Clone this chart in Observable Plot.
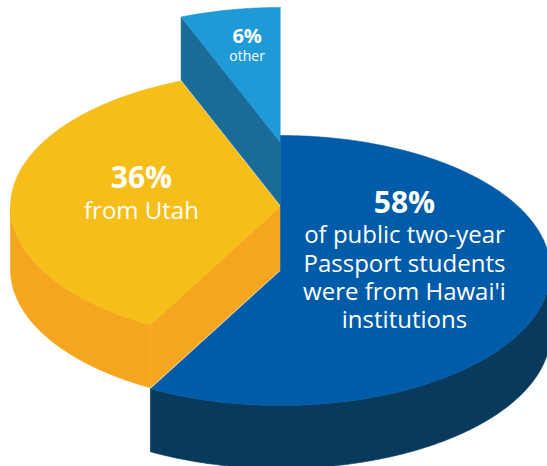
<!DOCTYPE html>
<html><head><meta charset="utf-8">
<script src="https://cdn.jsdelivr.net/npm/d3@7"></script>
<script src="https://cdn.jsdelivr.net/npm/@observablehq/plot@0.6"></script>
<style>html,body{margin:0;padding:0;background:#fff;} #chart svg{display:block;overflow:hidden;}</style>
</head><body><div id="chart"></div>
<script>
// ---- data ----
const categories = ["Hawai'i institutions", "Utah", "other"];
const shares = [58, 36, 6];
const percentLabels = ["58%", "36%", "6%"];
const descriptionLines = [
  ["of public two-year", "Passport students", "were from Hawai'i", "institutions"],
  ["from Utah"],
  ["other"]
];
const topColors = ["#005ca8", "#f6be18", "#1e9ad6"];
const sideColors = ["#093a5c", "#f4a71e", "#1b6b99"];

// ---- layout ----
const W = 547, H = 466;
const TILT = 0.5;          // ellipse ry/rx
const RISE = 64 / 270;     // vertical step between slices (in radius units)
const THICK = 63 / 270;    // slice thickness (in radius units)
const labelR = [0.474, 0.516, 0.66];
const labelLift = [-26.5, -9, -9.7];
const pctSize = [30, 30, 20];
const descSize = [24, 24, 14];
const descGap = [30, 31, 18];
const descLead = [28.3, 28, 16];

const arcs = d3.pie().sort(null).value(d => d)(shares);
const pt = (a, z, r = 1) => ({x: r * Math.sin(a), y: TILT * r * Math.cos(a) + z});
function arcPts(a0, a1, z) {
  const n = Math.max(2, Math.ceil((a1 - a0) / (Math.PI / 360)));
  return d3.range(n + 1).map(k => pt(a0 + (a1 - a0) * k / n, z));
}

const polys = [];
let id = 0;
const add = (pts, color) => { const k = id++; pts.forEach(p => polys.push({...p, id: k, color})); };
for (let i = shares.length - 1; i >= 0; i--) {
  const {startAngle: a0, endAngle: a1} = arcs[i];
  const z = i * RISE, zb = z - THICK;
  const w0 = Math.max(a0, Math.PI / 2), w1 = Math.min(a1, 3 * Math.PI / 2);
  if (w1 > w0) add([...arcPts(w0, w1, z), ...arcPts(w0, w1, zb).reverse()], sideColors[i]);
  if (Math.sin(a0) < -1e-9) add([pt(0, z, 0), pt(a0, z), pt(a0, zb), pt(0, zb, 0)], sideColors[i]);
  if (Math.sin(a1) > 1e-9) add([pt(0, z, 0), pt(a1, z), pt(a1, zb), pt(0, zb, 0)], sideColors[i]);
  add([pt(0, z, 0), ...arcPts(a0, a1, z)], topColors[i]);
}

const pctRows = [], descRows = [];
arcs.forEach((a, i) => {
  const mid = (a.startAngle + a.endAngle) / 2;
  const anchor = pt(mid, i * RISE, labelR[i]);
  const n = descriptionLines[i].length;
  const top = -0.72 * pctSize[i], bottom = descGap[i] + (n - 1) * descLead[i];
  const base0 = -(top + bottom) / 2 + labelLift[i];
  pctRows.push({x: anchor.x, y: anchor.y - base0 / 270, text: percentLabels[i], size: pctSize[i]});
  const lastOff = base0 + descGap[i] + (n - 1) * descLead[i];
  descRows.push({x: anchor.x, y: anchor.y - lastOff / 270, text: descriptionLines[i].join("\n"), size: descSize[i], lh: descLead[i] / descSize[i]});
});

const descMarks = descRows.map(r => Plot.text([r], {
  x: "x", y: "y", text: "text", fontSize: r.size, lineHeight: r.lh, fill: "white",
  lineAnchor: "bottom", textAnchor: "middle", fontFamily: "'Open Sans', sans-serif"
}));

const chart = Plot.plot({
  width: W, height: H,
  margin: 0,
  x: {domain: [-1, 1], range: [10, 550], axis: null},
  y: {domain: [-1, 1], range: [540, 0], axis: null},
  color: {type: "identity"},
  style: {background: "white", fontFamily: "'Open Sans', sans-serif"},
  marks: [
    Plot.line(polys, {x: "x", y: "y", z: "id", fill: "color", stroke: "color", strokeWidth: 0.6, curve: "linear", clip: true}),
    Plot.text(pctRows, {x: "x", y: "y", text: "text", fontSize: d => d.size, fontWeight: "bold", fill: "white", lineAnchor: "bottom", textAnchor: "middle", fontFamily: "'Open Sans', sans-serif"}),
    ...descMarks
  ]
});
document.getElementById("chart").append(chart);
</script>
</body></html>
